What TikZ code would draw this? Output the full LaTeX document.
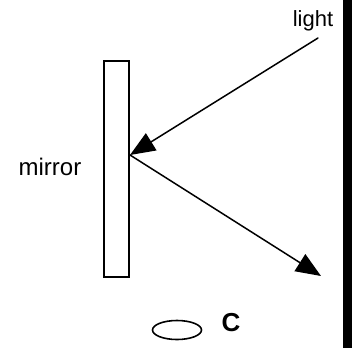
\documentclass[tikz,border=0pt]{standalone}
\usepackage{fontspec}
\setmainfont{Liberation Sans}
\usetikzlibrary{arrows.meta,shapes.geometric}
\tikzset{
  ray/.style={line width=1.5pt, -{Triangle[length=25pt, width=20pt]}},
  lbl/.style={inner sep=0pt, font=\fontsize{22}{26}\selectfont},
}
\begin{document}
\begin{tikzpicture}[x=1pt, y=-1pt, line cap=round]
        \useasboundingbox (0,0) rectangle (352,348);
        % mirror and wall
        \node[draw, line width=2pt, minimum width=25pt, minimum height=216pt, inner sep=0pt] (mirror) at (116.5,169) {};
        \fill (343,0) rectangle (352,348);

        \coordinate (hit) at (130,155);
        \coordinate (src) at (318,38);
        \coordinate (dst) at (321,276);

        \draw[ray] (src)--(hit);
        \draw[ray] (hit)--(dst);

        \node[lbl, font=\fontsize{24}{28}\selectfont] (mirrorlbl) at (50,167) {mirror};
        \node[lbl] (lightlbl) at (313,21) {light};

        \node[draw, ellipse, line width=1.6pt, minimum width=49pt, minimum height=19pt, inner sep=0pt] (coin) at (177,330) {};
        \node[lbl, font=\fontsize{26}{30}\selectfont\bfseries] (clbl) at (231,323) {C};
      \end{tikzpicture}
\end{document}
